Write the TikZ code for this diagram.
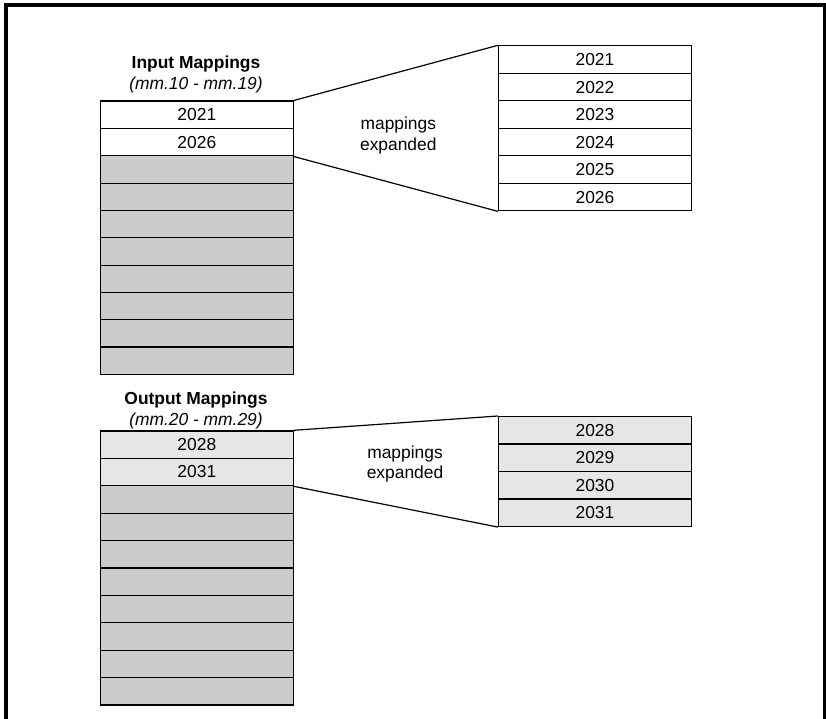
\documentclass[tikz,border=0pt]{standalone}
\usepackage{fontspec}
\setmainfont{Liberation Sans}
\definecolor{unused}{HTML}{CCCCCC}
\definecolor{outfill}{HTML}{E6E6E6}
\begin{document}
\begin{tikzpicture}[x=1pt,y=-1pt,
  txt/.style={font=\fontsize{17.4}{20.5}\selectfont},
  cell/.style={txt, draw=black, line width=1.2pt, minimum width=192.5pt,
    minimum height=27.4pt, inner sep=0pt, anchor=north west},
  incell/.style={cell, fill=white},
  outcell/.style={cell, fill=outfill},
  emptycell/.style={cell, fill=unused},
  fan/.style={draw=black, line width=1.2pt},
  frame/.style={draw=black, line width=4pt}]
\useasboundingbox (0,0) rectangle (826,719);
% outer frame (open at the bottom)
\draw[frame] (5.5,725) -- (5.5,5) -- (824.5,5) -- (824.5,725);

% ---------- Input mappings ----------
\node[txt, anchor=base, font=\fontsize{17.4}{20.5}\selectfont\bfseries] (intitle) at (196,68.3) {Input Mappings};
\node[txt, anchor=base, font=\fontsize{17.4}{20.5}\selectfont\itshape] (inrange) at (196,89.3) {(mm.10 - mm.19)};
\node[incell] (in1) at (100,100.5) {2021};
\node[incell] (in2) at (100,127.9) {2026};
\foreach \i in {0,...,7} {
  \node[emptycell] (ig\i) at (100,{155.3+27.3*\i}) {};
}
\node[incell, minimum width=192.7pt] (ex1) at (498,45.3) {2021};
\node[incell, minimum width=192.7pt] (ex2) at (498,72.8) {2022};
\node[incell, minimum width=192.7pt] (ex3) at (498,100.3) {2023};
\node[incell, minimum width=192.7pt] (ex4) at (498,127.8) {2024};
\node[incell, minimum width=192.7pt] (ex5) at (498,155.3) {2025};
\node[incell, minimum width=192.7pt] (ex6) at (498,182.8) {2026};
\draw[fan] (in1.north east) -- (ex1.north west);
\draw[fan] (in2.south east) -- (ex6.south west);
\node[txt, align=center] (inexp) at (398.3,135.5) {mappings\\expanded};

% ---------- Output mappings ----------
\node[txt, anchor=base, font=\fontsize{17.4}{20.5}\selectfont\bfseries] (outtitle) at (196,404.3) {Output Mappings};
\node[txt, anchor=base, font=\fontsize{17.4}{20.5}\selectfont\itshape] (outrange) at (196,425) {(mm.20 - mm.29)};
\node[outcell] (out1) at (100,430.3) {2028};
\node[outcell] (out2) at (100,457.7) {2031};
\foreach \i in {0,...,7} {
  \node[emptycell] (og\i) at (100,{485.1+27.4*\i}) {};
}
\node[outcell, minimum width=192.7pt] (ox1) at (498,416) {2028};
\node[outcell, minimum width=192.7pt] (ox2) at (498,443.5) {2029};
\node[outcell, minimum width=192.7pt] (ox3) at (498,471) {2030};
\node[outcell, minimum width=192.7pt] (ox4) at (498,498.5) {2031};
\draw[fan] (out1.north east) -- (ox1.north west);
\draw[fan] (out2.south east) -- (ox4.south west);
\node[txt, align=center] (outexp) at (405,464) {mappings\\expanded};
\end{tikzpicture}
\end{document}
